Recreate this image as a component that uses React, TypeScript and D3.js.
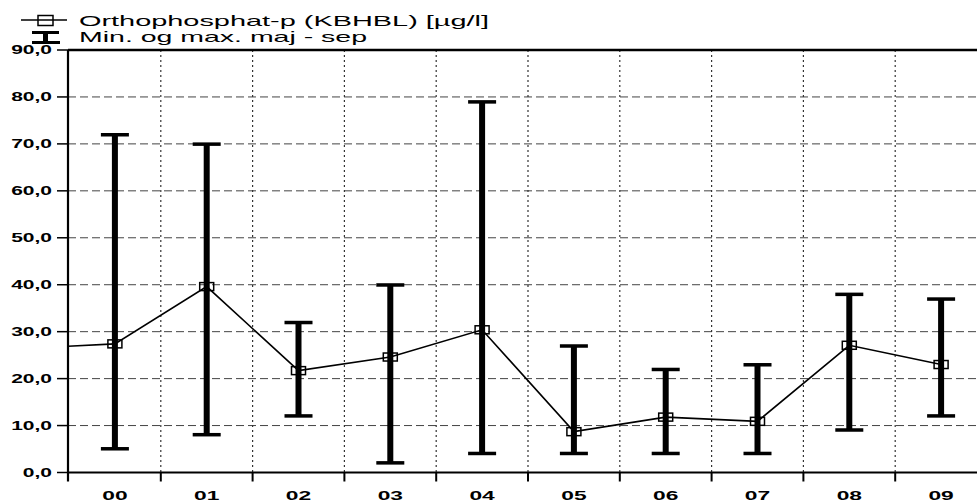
import React from "react";
import * as d3 from "d3";

const categories = ["00", "01", "02", "03", "04", "05", "06", "07", "08", "09"];
const meanValues = [27.4, 39.6, 21.7, 24.6, 30.4, 8.7, 11.8, 10.9, 27.1, 23.0];
const minValues = [5, 8, 12, 2, 4, 4, 4, 4, 9, 12];
const maxValues = [72, 70, 32, 40, 79, 27, 22, 23, 38, 37];
const previousValue = 26.9;
const yTicks = [0, 10, 20, 30, 40, 50, 60, 70, 80, 90];
const legendLabels = ["Orthophosphat-p (KBHBL) [µg/l]", "Min. og max. maj - sep"];

const W = 977;
const H = 502;
const left = 68;
const top = 50;
const bottom = 472.5;

export default function App() {
  const x = d3.scaleBand<string>().domain(categories).range([left + 1, left + 1 + 91.8 * 10]).padding(0);
  const y = d3.scaleLinear().domain([0, 90]).range([bottom, top]);
  const cx = (c: string) => (x(c) as number) + x.bandwidth() / 2;
  const fmt = (v: number) => v.toFixed(1).replace(".", ",");

  const linePts: [number, number][] = [[left, y(previousValue)], ...categories.map((c, i) => [cx(c), y(meanValues[i])] as [number, number])];
  const line = d3.line()(linePts) as string;

  const font = "'Liberation Sans', Arial, sans-serif";
  const sx = 1.75;

  return (
    <svg width={W} height={H} style={{ position: "absolute", left: 0, top: 0, background: "#fff" }}>
      <rect x={0} y={0} width={W} height={H} fill="#fff" />
      {/* horizontal dashed grid */}
      {yTicks.filter((t) => t > 0 && t < 90).map((t) => (
        <line key={"h" + t} x1={left} x2={W} y1={y(t)} y2={y(t)} stroke="#444" strokeWidth={1} strokeDasharray="8,4" />
      ))}
      {/* vertical dotted grid */}
      {categories.slice(1).map((c) => (
        <line key={"v" + c} x1={x(c)} x2={x(c)} y1={top} y2={bottom} stroke="#333" strokeWidth={1.2} strokeDasharray="2,3" />
      ))}
      {/* axes */}
      <line x1={left} x2={W} y1={top} y2={top} stroke="#000" strokeWidth={2.5} />
      <line x1={left} x2={W} y1={bottom} y2={bottom} stroke="#000" strokeWidth={2} />
      <line x1={left} x2={left} y1={top} y2={bottom + 9} stroke="#000" strokeWidth={2.2} />
      {yTicks.map((t) => (
        <g key={"yt" + t}>
          <line x1={57} x2={left} y1={y(t)} y2={y(t)} stroke="#000" strokeWidth={1.5} />
          <text transform={`translate(52,${y(t) + 4.3}) scale(${sx},1)`} textAnchor="end" fontFamily={font} fontWeight="bold" fontSize={12} fill="#000">
            {fmt(t)}
          </text>
        </g>
      ))}
      {categories.slice(1).map((c) => (
        <line key={"xt" + c} x1={x(c)} x2={x(c)} y1={bottom} y2={bottom + 9} stroke="#000" strokeWidth={2} />
      ))}
      {categories.map((c) => (
        <text key={"xl" + c} transform={`translate(${cx(c)},499.5) scale(1.9,1)`} textAnchor="middle" fontFamily={font} fontWeight="bold" fontSize={12} fill="#000">
          {c}
        </text>
      ))}
      {/* error bars */}
      {categories.map((c, i) => (
        <g key={"eb" + c}>
          <rect x={cx(c) - 3} y={y(maxValues[i])} width={6} height={y(minValues[i]) - y(maxValues[i])} fill="#000" />
          <rect x={cx(c) - 14} y={y(maxValues[i]) - 1.5} width={28} height={3.5} fill="#000" />
          <rect x={cx(c) - 14} y={y(minValues[i]) - 2} width={28} height={3.5} fill="#000" />
        </g>
      ))}
      {/* mean line */}
      <path d={line} fill="none" stroke="#000" strokeWidth={1.6} />
      {categories.map((c, i) => (
        <rect key={"m" + c} x={cx(c) - 7} y={y(meanValues[i]) - 4} width={14} height={8} fill="none" stroke="#000" strokeWidth={1.5} />
      ))}
      {/* legend */}
      <line x1={21} x2={67} y1={20} y2={20} stroke="#000" strokeWidth={1.5} />
      <rect x={38} y={15.5} width={15} height={10} fill="none" stroke="#000" strokeWidth={1.5} />
      <rect x={32} y={31} width={27} height={3} fill="#000" />
      <rect x={43} y={31} width={5} height={12} fill="#000" />
      <rect x={32} y={41} width={28} height={3} fill="#000" />
      <text x={79} y={25.5} fontFamily={font} fontSize={15} textLength={410} lengthAdjust="spacingAndGlyphs" fill="#000">
        {legendLabels[0]}
      </text>
      <text x={79} y={42} fontFamily={font} fontSize={15} textLength={288} lengthAdjust="spacingAndGlyphs" fill="#000">
        {legendLabels[1]}
      </text>
    </svg>
  );
}
